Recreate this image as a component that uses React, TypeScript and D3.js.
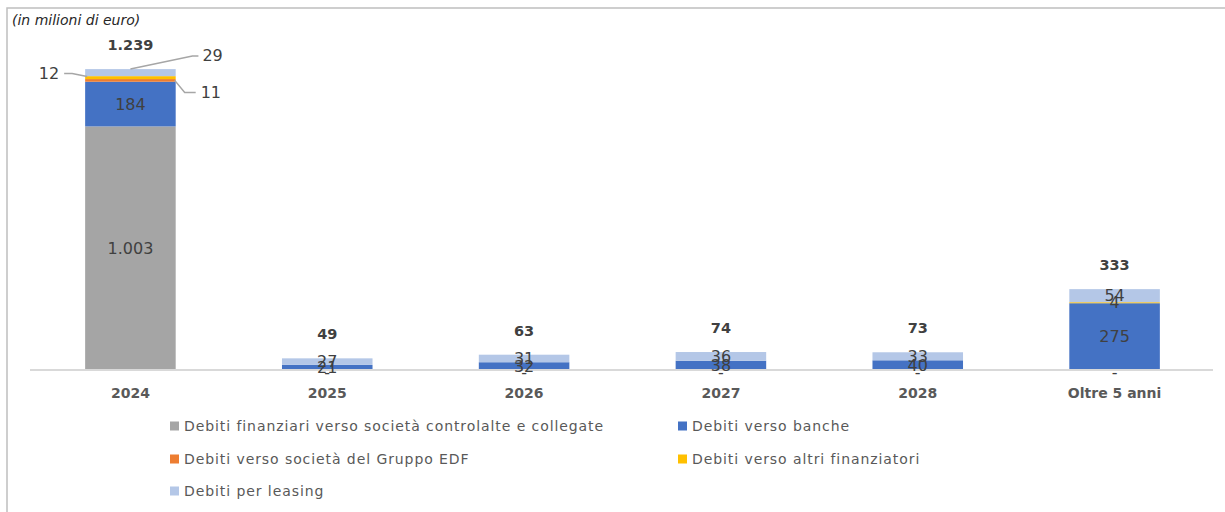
import React from "react";
import * as d3 from "d3";

const categories = ["2024", "2025", "2026", "2027", "2028", "Oltre 5 anni"];
const controllate = [1003, 0, 0, 0, 0, 0];
const banche = [184, 21, 32, 38, 40, 275];
const edf = [11, 0, 0, 0, 0, 0];
const altri = [12, 0, 0, 0, 0, 4];
const leasing = [29, 27, 31, 36, 33, 54];
const totals = [1239, 49, 63, 74, 73, 333];

const seriesNames = [
  "Debiti finanziari verso società controlalte e collegate",
  "Debiti verso banche",
  "Debiti verso società del Gruppo EDF",
  "Debiti verso altri finanziatori",
  "Debiti per leasing",
];
const colors = ["#a5a5a5", "#4472c4", "#ed7d31", "#ffc000", "#b4c7e7"];
const seriesData = [controllate, banche, edf, altri, leasing];

const W = 1225;
const H = 512;
const FONT = "'DejaVu Sans', 'Liberation Sans', sans-serif";

const fmt = (v: number) => (v === 0 ? "-" : d3.format(",")(v).replace(/,/g, "."));

export default function App() {
  const x = d3
    .scaleBand<string>()
    .domain(categories)
    .range([32, 1213])
    .paddingInner(0.54)
    .paddingOuter(0.27);
  const y = d3.scaleLinear().domain([0, 1400]).range([370, 30]);

  const rows = categories.map((c, i) => {
    const r: any = { cat: c };
    seriesData.forEach((s, k) => (r["s" + k] = s[i]));
    return r;
  });
  const keys = seriesData.map((_, k) => "s" + k);
  const stacked = d3.stack().keys(keys)(rows);
  const bw = x.bandwidth();

  const leaderSeries = new Set([2, 3, 4]);

  const labels: React.ReactNode[] = [];
  stacked.forEach((layer, k) => {
    layer.forEach((d, i) => {
      const v = seriesData[k][i];
      if (i === 0 && leaderSeries.has(k)) return;
      if (v === 0 && k !== 0) return;
      const cx = (x(categories[i]) as number) + bw / 2;
      const cy = v === 0 ? y(d[0]) + 2 : (y(d[0]) + y(d[1])) / 2;
      labels.push(
        <text
          key={`l${k}-${i}`}
          x={cx}
          y={cy}
          textAnchor="middle"
          dominantBaseline="central"
          fontSize={16}
          fill="#404040"
          fontFamily={FONT}
        >
          {fmt(v)}
        </text>
      );
    });
  });

  const x0 = x(categories[0]) as number;
  const cx0 = x0 + bw / 2;
  const top0 = y(stacked[4][0][1]);
  const yAltri = (y(stacked[3][0][0]) + y(stacked[3][0][1])) / 2;
  const yEdf = (y(stacked[2][0][0]) + y(stacked[2][0][1])) / 2;
  const leaderColor = "#a6a6a6";

  const legendItems = [
    { k: 0, x: 170, y: 426 },
    { k: 1, x: 678, y: 426 },
    { k: 2, x: 170, y: 459 },
    { k: 3, x: 678, y: 459 },
    { k: 4, x: 170, y: 491 },
  ];

  return (
    <svg
      width={W}
      height={H}
      style={{ display: "block", position: "absolute", left: 0, top: 0 }}
    >
      <rect x={7} y={8} width={W} height={H + 20} fill="#fff" stroke="#bfbfbf" strokeWidth={1.5} />
      <text x={12} y={20} dominantBaseline="central" fontSize={14} fontStyle="italic" fill="#262626" fontFamily={FONT}>
        (in milioni di euro)
      </text>

      {stacked.map((layer, k) =>
        layer.map((d, i) => (
          <rect
            key={`b${k}-${i}`}
            x={x(categories[i])}
            y={y(d[1])}
            width={bw}
            height={Math.max(0, y(d[0]) - y(d[1]))}
            fill={colors[k]}
          />
        ))
      )}

      <line x1={30} x2={1213} y1={370} y2={370} stroke="#d9d9d9" strokeWidth={2} />

      {labels}

      <polyline points={`${cx0},${top0} ${cx0 + 62},${top0 - 13} ${cx0 + 68},${top0 - 13}`} fill="none" stroke={leaderColor} strokeWidth={1.5} />
      <text x={cx0 + 72} y={top0 - 14} dominantBaseline="central" fontSize={16} fill="#404040" fontFamily={FONT}>
        {fmt(leasing[0])}
      </text>
      <polyline points={`${x0 + 2},${yAltri - 1} ${x0 - 13},${yAltri - 4} ${x0 - 21},${yAltri - 4}`} fill="none" stroke={leaderColor} strokeWidth={1.5} />
      <text x={x0 - 26} y={yAltri - 4} textAnchor="end" dominantBaseline="central" fontSize={16} fill="#404040" fontFamily={FONT}>
        {fmt(altri[0])}
      </text>
      <polyline points={`${x0 + bw - 1},${yEdf} ${x0 + bw + 9},${yEdf + 12} ${x0 + bw + 20},${yEdf + 12}`} fill="none" stroke={leaderColor} strokeWidth={1.5} />
      <text x={x0 + bw + 25} y={yEdf + 12} dominantBaseline="central" fontSize={16} fill="#404040" fontFamily={FONT}>
        {fmt(edf[0])}
      </text>

      {totals.map((t, i) => (
        <text
          key={`t${i}`}
          x={(x(categories[i]) as number) + bw / 2}
          y={y(t) - 24}
          textAnchor="middle"
          dominantBaseline="central"
          fontSize={14.5}
          fontWeight="bold"
          fill="#404040"
          fontFamily={FONT}
        >
          {fmt(t)}
        </text>
      ))}

      {categories.map((c) => (
        <text
          key={`c${c}`}
          x={(x(c) as number) + bw / 2}
          y={393}
          textAnchor="middle"
          dominantBaseline="central"
          fontSize={14}
          fontWeight="bold"
          fill="#595959"
          fontFamily={FONT}
        >
          {c}
        </text>
      ))}

      {legendItems.map((it) => (
        <g key={`lg${it.k}`}>
          <rect x={it.x} y={it.y - 4.5} width={9} height={9} fill={colors[it.k]} />
          <text
            x={it.x + 14}
            y={it.y}
            dominantBaseline="central"
            fontSize={14}
            letterSpacing={0.92}
            fill="#595959"
            fontFamily={FONT}
          >
            {seriesNames[it.k]}
          </text>
        </g>
      ))}
    </svg>
  );
}
